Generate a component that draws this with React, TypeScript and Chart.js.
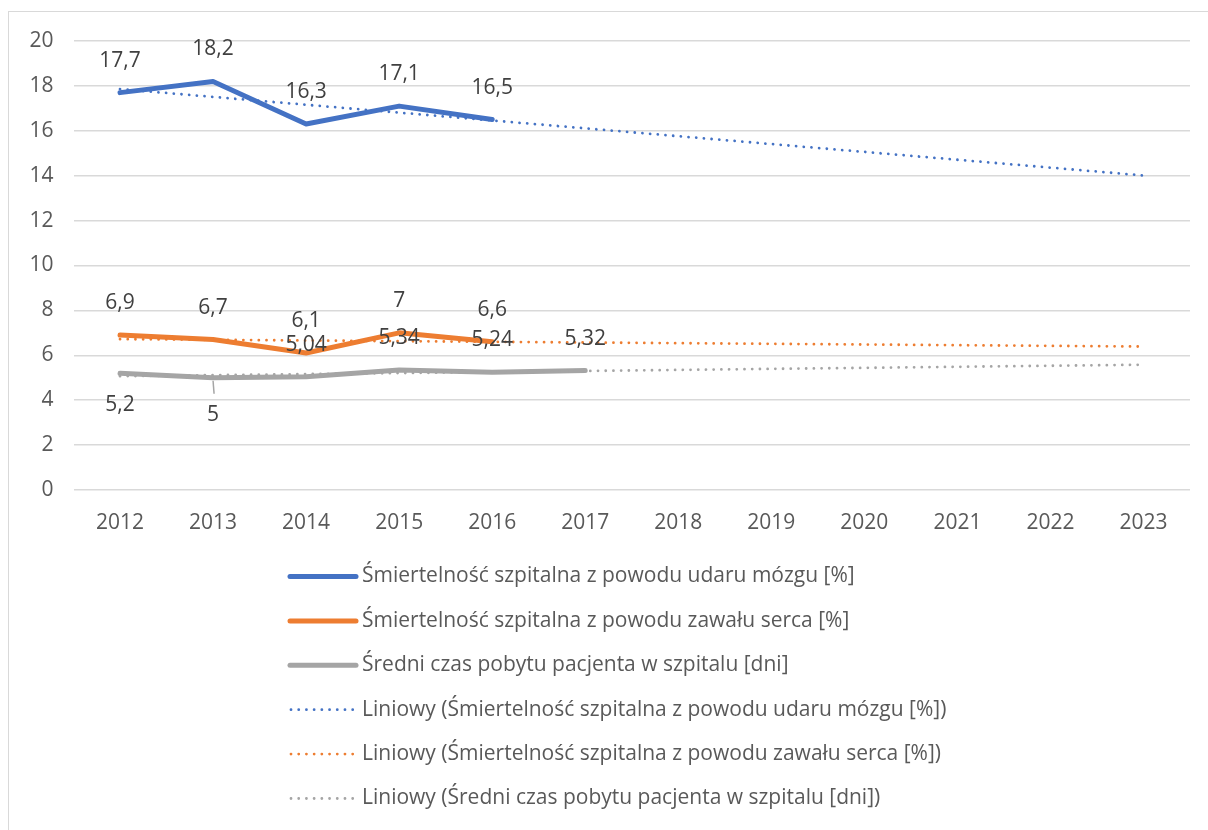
import React, { useEffect, useRef } from 'react';
import { Chart, registerables } from 'chart.js';

Chart.register(...registerables);

// ---------- data ----------
const years = ['2012', '2013', '2014', '2015', '2016', '2017', '2018', '2019', '2020', '2021', '2022', '2023'];
const strokeMortality = [17.7, 18.2, 16.3, 17.1, 16.5];
const heartMortality = [6.9, 6.7, 6.1, 7, 6.6];
const hospitalStay = [5.2, 5, 5.04, 5.34, 5.24, 5.32];
// linear trend lines: value at first year (2012) and last year (2023)
const strokeTrend = [17.86, 14.01];
const heartTrend = [6.72, 6.39];
const stayTrend = [5.07, 5.58];
const yTickValues = [0, 2, 4, 6, 8, 10, 12, 14, 16, 18, 20];

const seriesNames = [
  'Śmiertelność szpitalna z powodu udaru mózgu [%]',
  'Śmiertelność szpitalna z powodu zawału serca [%]',
  'Średni czas pobytu pacjenta w szpitalu [dni]',
];
const trendNames = [
  'Liniowy (Śmiertelność szpitalna z powodu udaru mózgu [%])',
  'Liniowy (Śmiertelność szpitalna z powodu zawału serca [%])',
  'Liniowy (Średni czas pobytu pacjenta w szpitalu [dni])',
];

// ---------- styles ----------
const COLORS = ['#4472C4', '#ED7D31', '#A5A5A5'];
const FONT = "'Open Sans', 'Noto Sans', sans-serif";
const FONT_SIZE = 21;
// label placement per point (style only)
const labelPlacement = [
  ['above', 'above', 'above', 'above', 'above'],
  ['above', 'above', 'above', 'above', 'above'],
  ['below', 'belowLeader', 'above', 'above', 'above', 'above'],
];

const fmt = (v: number) => String(v).replace('.', ',');

const dataLabelPlugin = {
  id: 'excelDataLabels',
  afterDatasetsDraw(chart: any) {
    const ctx = chart.ctx;
    ctx.save();
    ctx.font = `${FONT_SIZE}px ${FONT}`;
    ctx.fillStyle = '#404040';
    ctx.textAlign = 'center';
    ctx.textBaseline = 'middle';
    chart.data.datasets.forEach((ds: any, di: number) => {
      if (ds.seriesIndex === undefined) return;
      const meta = chart.getDatasetMeta(di);
      const place = labelPlacement[ds.seriesIndex];
      meta.data.forEach((pt: any, i: number) => {
        const v = ds.data[i];
        if (v === null || v === undefined) return;
        const p = place[i] || 'above';
        let y = pt.y - 32;
        if (p === 'below') y = pt.y + 32;
        if (p === 'belowLeader') {
          y = pt.y + 37;
          ctx.save();
          ctx.strokeStyle = '#A5A5A5';
          ctx.lineWidth = 1.5;
          ctx.beginPath();
          ctx.moveTo(pt.x, pt.y + 3);
          ctx.lineTo(pt.x + 1, pt.y + 16);
          ctx.stroke();
          ctx.restore();
        }
        ctx.fillText(fmt(v), pt.x, y);
      });
    });
    ctx.restore();
  },
};

const legendPlugin = {
  id: 'excelLegend',
  afterDraw(chart: any) {
    const ctx = chart.ctx;
    ctx.save();
    ctx.font = `${FONT_SIZE}px ${FONT}`;
    ctx.textAlign = 'left';
    ctx.textBaseline = 'middle';
    const names = [...seriesNames, ...trendNames];
    names.forEach((name, i) => {
      const y = 576.5 + i * 44.4;
      const color = COLORS[i % 3];
      ctx.strokeStyle = color;
      if (i < 3) {
        ctx.lineWidth = 5;
        ctx.lineCap = 'round';
        ctx.setLineDash([]);
        ctx.beginPath();
        ctx.moveTo(290, y);
        ctx.lineTo(356, y);
        ctx.stroke();
      } else {
        ctx.lineWidth = 2.8;
        ctx.lineCap = 'round';
        ctx.setLineDash([0.01, 7.7]);
        ctx.beginPath();
        ctx.moveTo(291, y);
        ctx.lineTo(353, y);
        ctx.stroke();
      }
      ctx.setLineDash([]);
      ctx.fillStyle = '#595959';
      ctx.fillText(name, 362, y);
    });
    ctx.restore();
  },
};

export default function App() {
  const canvasRef = useRef<HTMLCanvasElement | null>(null);

  useEffect(() => {
    const canvas = canvasRef.current;
    if (!canvas) return;
    const mainSets = [strokeMortality, heartMortality, hospitalStay].map((d, i) => ({
      label: seriesNames[i],
      data: d,
      seriesIndex: i,
      borderColor: COLORS[i],
      backgroundColor: COLORS[i],
      borderWidth: 5,
      borderJoinStyle: 'round',
      borderCapStyle: 'round',
      pointRadius: 0,
      pointHoverRadius: 0,
      tension: 0,
      fill: false,
      order: 2,
    }));
    const trendSets = [strokeTrend, heartTrend, stayTrend].map((t, i) => ({
      label: trendNames[i],
      data: [
        { x: years[0], y: t[0] },
        { x: years[years.length - 1], y: t[1] },
      ],
      borderColor: COLORS[i],
      backgroundColor: COLORS[i],
      borderWidth: 2.8,
      borderDash: [0.01, 7.7],
      borderCapStyle: 'round',
      pointRadius: 0,
      pointHoverRadius: 0,
      fill: false,
      order: 1,
    }));

    const chart = new Chart(canvas, {
      type: 'line',
      data: { labels: years, datasets: [...mainSets, ...trendSets] as any },
      options: {
        animation: false,
        responsive: true,
        maintainAspectRatio: false,
        events: [],
        layout: { padding: { left: 0, right: 18, top: 41, bottom: 280 } },
        plugins: {
          legend: { display: false },
          tooltip: { enabled: false },
        },
        scales: {
          x: {
            type: 'category',
            offset: true,
            grid: { display: false, drawTicks: false },
            border: { display: false },
            ticks: {
              color: '#595959',
              font: { family: FONT, size: FONT_SIZE },
              padding: 20,
              maxRotation: 0,
              autoSkip: false,
            },
            afterFit: (s: any) => {
              s.height = 60;
            },
          },
          y: {
            min: 0,
            max: 20,
            afterBuildTicks: (s: any) => {
              s.ticks = yTickValues.map((v) => ({ value: v }));
            },
            grid: { color: '#D9D9D9', lineWidth: 1.5, drawTicks: false },
            border: { display: false },
            ticks: {
              color: '#595959',
              font: { family: FONT, size: FONT_SIZE },
              padding: 20,
            },
            afterFit: (s: any) => {
              s.width = 73.5;
            },
          },
        },
      },
      plugins: [dataLabelPlugin, legendPlugin],
    } as any);
    return () => chart.destroy();
  }, []);

  return (
    <div style={{ position: 'fixed', left: 0, top: 0, width: 1208, height: 830, overflow: 'hidden', background: '#fff' }}>
      <div
        style={{
          position: 'absolute',
          left: 8,
          top: 11,
          width: 1240,
          height: 860,
          borderLeft: '1.5px solid #D9D9D9',
          borderTop: '1.5px solid #D9D9D9',
        }}
      />
      <div style={{ position: 'absolute', left: 0, top: 0, width: 1208, height: 830 }}>
        <canvas ref={canvasRef} />
      </div>
    </div>
  );
}
